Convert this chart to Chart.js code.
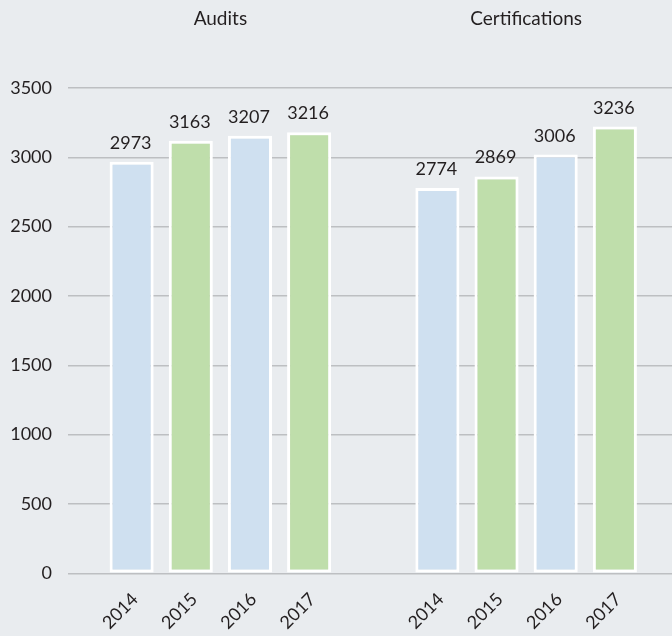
<!DOCTYPE html>
<html>
<head>
<meta charset="utf-8">
<script src="https://cdn.jsdelivr.net/npm/chart.js@4/dist/chart.umd.min.js"></script>
<style>
  html, body { margin: 0; padding: 0; background: #e9ecef; overflow: hidden; }
  #wrap { position: relative; width: 679px; height: 636px; }
</style>
</head>
<body>
<div id="wrap"><canvas id="chart"></canvas></div>
<script>
// ---- data ----
const groups = ['Audits', 'Certifications'];
const years = ['2014', '2015', '2016', '2017'];
const audits = [2968, 3120, 3155, 3180];            // bar heights
const certifications = [2778, 2862, 3020, 3222];    // bar heights
const auditLabels = ['2973', '3163', '3207', '3216'];          // printed values
const certificationLabels = ['2774', '2869', '3006', '3236'];  // printed values
const yTicks = [0, 500, 1000, 1500, 2000, 2500, 3000, 3500];

const yearColors = ['#cfe0f0', '#bfdeab', '#cfe0f0', '#bfdeab'];
const textColor = '#231f20';
const fontFamily = 'Lato, "Open Sans", sans-serif';

const datasets = years.map((y, i) => ({
  label: y,
  data: [audits[i], certifications[i]],
  backgroundColor: yearColors[i],
  borderColor: '#ffffff',
  borderWidth: 3,
  borderSkipped: false
}));
const printed = [auditLabels, certificationLabels];

const labelPlugin = {
  id: 'barLabels',
  afterDatasetsDraw(chart) {
    const ctx = chart.ctx;
    ctx.save();
    ctx.font = '18px ' + fontFamily;
    ctx.fillStyle = textColor;
    chart.data.datasets.forEach((ds, i) => {
      const meta = chart.getDatasetMeta(i);
      meta.data.forEach((bar, j) => {
        ctx.textAlign = 'center';
        ctx.textBaseline = 'alphabetic';
        ctx.fillText(printed[j][i], bar.x - 1, bar.y - 13);
        ctx.save();
        ctx.translate(bar.x + 3.5, chart.chartArea.bottom + 23);
        ctx.rotate(-Math.PI / 4);
        ctx.textAlign = 'right';
        ctx.textBaseline = 'middle';
        ctx.fillText(ds.label, 0, 0);
        ctx.restore();
      });
    });
    ctx.restore();
  }
};

new Chart(document.getElementById('chart'), {
  type: 'bar',
  data: { labels: groups, datasets },
  options: {
    responsive: true,
    maintainAspectRatio: false,
    animation: false,
    layout: { padding: { top: 0, bottom: 62.7, left: 0, right: 0 } },
    datasets: { bar: { categoryPercentage: 0.774, barPercentage: 0.745 } },
    plugins: { legend: { display: false }, tooltip: { enabled: false } },
    scales: {
      x: {
        position: 'top',
        grid: { display: false, drawTicks: false },
        border: { display: false },
        ticks: { color: textColor, font: { family: fontFamily, size: 19 }, padding: 58, maxRotation: 0 },
        afterFit(scale) { scale.height = 88; }
      },
      y: {
        min: 0,
        max: 3500,
        afterBuildTicks(scale) { scale.ticks = yTicks.map(v => ({ value: v })); },
        grid: { color: '#bdbfc2', lineWidth: 1.5, drawTicks: false },
        border: { display: false },
        ticks: {
          color: textColor,
          font: { family: fontFamily, size: 18 },
          padding: 15.5,
          callback: (v) => String(v)
        },
        afterFit(scale) { scale.width = 67.5; }
      }
    }
  },
  plugins: [labelPlugin]
});
</script>
</body>
</html>
